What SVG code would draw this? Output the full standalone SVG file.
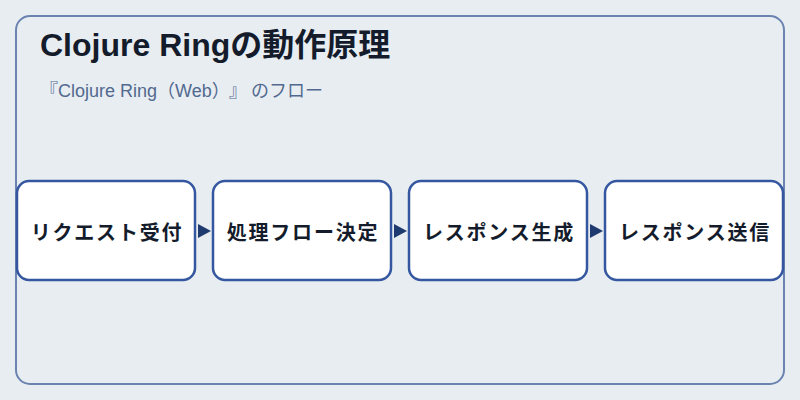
<svg xmlns="http://www.w3.org/2000/svg" width="800" height="400" viewBox="0 0 800 400">
<defs>
<style>
.node rect{fill:#ffffff;stroke:#3557a0;stroke-width:2.5}
.node text{font-family:"Noto Sans CJK JP","Noto Sans",sans-serif;font-size:20px;font-weight:bold;fill:#141c2c;text-anchor:middle;letter-spacing:1.8px}
.conn path{fill:#1f3a6e;stroke:none}
</style>
</defs>
<rect width="800" height="400" fill="#e8edf2"/>
<rect x="16" y="16" width="768" height="368" rx="14" fill="#e8edf2" stroke="#6b83b0" stroke-width="2"/>
<text x="40" y="56" font-family="'Liberation Sans','Noto Sans CJK JP',sans-serif" font-size="32" font-weight="bold" fill="#141c2c">Clojure Ringの動作原理</text>
<text x="40" y="97" font-family="'Liberation Sans','Noto Sans CJK JP',sans-serif" font-size="18" fill="#52698f">『Clojure Ring（Web）<tspan x="229">』</tspan><tspan x="251">のフロー</tspan></text>
<g class="conn" id="connectors">
<path d="M198,224 L211,231 L198,238 Z"/>
<path d="M394,224 L407,231 L394,238 Z"/>
<path d="M590,224 L603,231 L590,238 Z"/>
</g>
<g class="node" id="node1"><rect x="17" y="181" width="178" height="99" rx="12"/><text x="107" y="240">リクエスト受付</text></g>
<g class="node" id="node2"><rect x="213" y="181" width="178" height="99" rx="12"/><text x="303" y="240">処理フロー決定</text></g>
<g class="node" id="node3"><rect x="409" y="181" width="178" height="99" rx="12"/><text x="499" y="240">レスポンス生成</text></g>
<g class="node" id="node4"><rect x="605" y="181" width="178" height="99" rx="12"/><text x="695" y="240">レスポンス送信</text></g>
</svg>
